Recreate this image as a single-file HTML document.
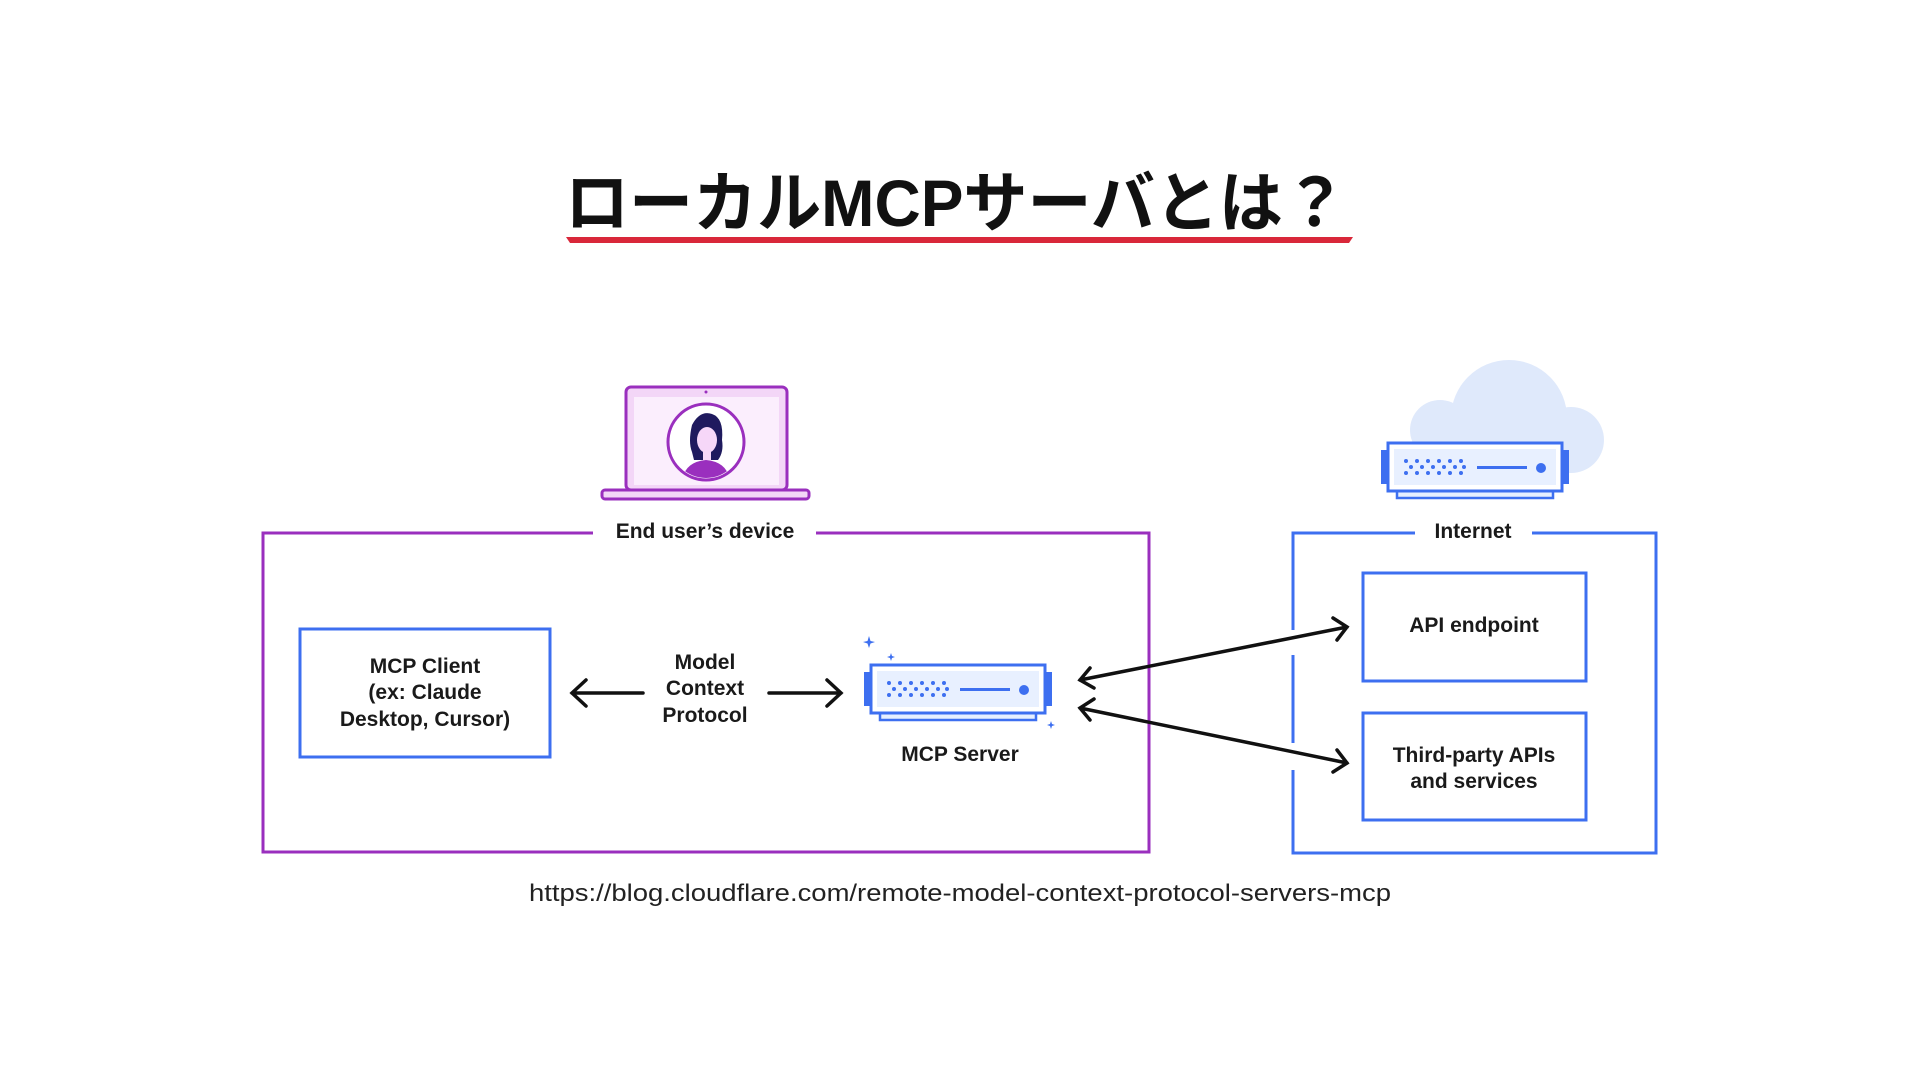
<!DOCTYPE html>
<html><head><meta charset="utf-8"><style>
html,body{margin:0;padding:0;background:#fff;}
svg{display:block}
text{font-family:"Liberation Sans","Noto Sans CJK JP",sans-serif;}
</style></head><body>
<svg width="1920" height="1080" viewBox="0 0 1920 1080" xmlns="http://www.w3.org/2000/svg">
<defs>
<g id="srv">
  <rect x="864" y="672" width="8" height="34" fill="#3d6ff0"/>
  <rect x="1044" y="672" width="8" height="34" fill="#3d6ff0"/>
  <rect x="880" y="712" width="156" height="8" fill="#e6efff" stroke="#3d6ff0" stroke-width="2.5"/>
  <rect x="871" y="665" width="174" height="48" fill="#fff" stroke="#3d6ff0" stroke-width="3"/>
  <rect x="877" y="671" width="162" height="36" fill="#e8f0ff"/>
  <g fill="#3d6ff0">
    <circle cx="889" cy="683" r="2"/><circle cx="900" cy="683" r="2"/><circle cx="911" cy="683" r="2"/><circle cx="922" cy="683" r="2"/><circle cx="933" cy="683" r="2"/><circle cx="944" cy="683" r="2"/>
    <circle cx="894" cy="689" r="2"/><circle cx="905" cy="689" r="2"/><circle cx="916" cy="689" r="2"/><circle cx="927" cy="689" r="2"/><circle cx="938" cy="689" r="2"/><circle cx="947" cy="689" r="2"/>
    <circle cx="889" cy="695" r="2"/><circle cx="900" cy="695" r="2"/><circle cx="911" cy="695" r="2"/><circle cx="922" cy="695" r="2"/><circle cx="933" cy="695" r="2"/><circle cx="944" cy="695" r="2"/>
    <rect x="960" y="688" width="50" height="3"/>
    <circle cx="1024" cy="690" r="5"/>
  </g>
</g>
</defs>

<!-- Title -->
<text x="565" y="226" font-size="66" font-weight="bold" fill="#111" textLength="782" lengthAdjust="spacingAndGlyphs">ローカルMCPサーバとは？</text>
<path d="M566 237 L1353 237 L1349 243 L570 243 Z" fill="#d9283a"/>

<!-- Laptop -->
<rect x="626" y="387" width="161" height="103" rx="5" fill="#f3d6f7" stroke="#9a2fbe" stroke-width="3"/>
<rect x="634" y="397" width="145" height="88" fill="#fbeefd"/>
<circle cx="706" cy="392" r="1.5" fill="#9a2fbe"/>
<rect x="602" y="490" width="207" height="9" rx="3" fill="#f3d6f7" stroke="#9a2fbe" stroke-width="3"/>
<circle cx="706" cy="442" r="38" fill="#fff" stroke="#9a2fbe" stroke-width="3"/>
<clipPath id="cc"><circle cx="706" cy="442" r="36"/></clipPath>
<g clip-path="url(#cc)">
  <path d="M682 482 Q684 462 706 460 Q728 462 730 482 Z" fill="#9a2fbe"/>
  <path d="M692 452 Q688 442 692 425 Q700 410 712 414 Q724 418 722 440 Q724 452 718 460 L694 460 Z" fill="#1f1a5e"/>
  <ellipse cx="707" cy="440" rx="10" ry="13" fill="#f6d7f8"/>
  <rect x="703" y="450" width="8" height="10" fill="#f6d7f8"/>
</g>

<!-- Purple box -->
<rect x="263" y="533" width="886" height="319" fill="none" stroke="#9a2fbe" stroke-width="3"/>
<rect x="593" y="520" width="223" height="25" fill="#fff"/>
<text x="705" y="538" text-anchor="middle" font-size="21" font-weight="bold" fill="#1a1a1a">End user’s device</text>

<!-- MCP client -->
<rect x="300" y="629" width="250" height="128" fill="#fff" stroke="#3d6ff0" stroke-width="3"/>
<g font-size="21" font-weight="bold" fill="#1a1a1a" text-anchor="middle">
<text x="425" y="673">MCP Client</text>
<text x="425" y="699">(ex: Claude</text>
<text x="425" y="726">Desktop, Cursor)</text>
<text x="705" y="669">Model</text>
<text x="705" y="695">Context</text>
<text x="705" y="722">Protocol</text>
<text x="960" y="761">MCP Server</text>
</g>

<!-- arrows -->
<g stroke="#111" stroke-width="3.5" fill="none" stroke-linecap="round">
<path d="M643 693 L572 693 M586 680 L572 693 L586 706"/>
<path d="M769 693 L841 693 M827 680 L841 693 L827 706"/>
<path d="M1080 680 L1347 627 M1090 668 L1080 680 L1094 688 M1333 618 L1347 627 L1337 640"/>
<path d="M1080 708 L1347 763 M1094 699 L1080 708 L1090 720 M1337 750 L1347 763 L1333 772"/>
</g>

<!-- server icon -->
<use href="#srv"/>
<g fill="#3d6ff0">
<path d="M869 636 L870.5 641 L875 642 L870.5 643.5 L869 648 L867.5 643.5 L863 642 L867.5 641 Z"/>
<path d="M891 653 L892 656 L895 657 L892 658 L891 661 L890 658 L887 657 L890 656 Z"/>
<path d="M1051 721 L1052 724 L1055 725 L1052 726 L1051 729 L1050 726 L1047 725 L1050 724 Z"/>
</g>

<!-- Cloud -->
<g fill="#dfe9fb">
<circle cx="1509" cy="418" r="58"/>
<circle cx="1571" cy="440" r="33"/>
<circle cx="1440" cy="430" r="30"/>
<rect x="1440" y="430" width="131" height="43"/>
</g>
<use href="#srv" transform="translate(517,-222)"/>

<!-- Internet box -->
<path d="M1293 630 L1293 533 L1656 533 L1656 853 L1293 853 L1293 770 M1293 743 L1293 655" fill="none" stroke="#3d6ff0" stroke-width="3"/>
<rect x="1415" y="520" width="117" height="25" fill="#fff"/>
<text x="1473" y="538" text-anchor="middle" font-size="21" font-weight="bold" fill="#1a1a1a">Internet</text>
<rect x="1363" y="573" width="223" height="108" fill="#fff" stroke="#3d6ff0" stroke-width="3"/>
<rect x="1363" y="713" width="223" height="107" fill="#fff" stroke="#3d6ff0" stroke-width="3"/>
<g font-size="21" font-weight="bold" fill="#1a1a1a" text-anchor="middle">
<text x="1474" y="632">API endpoint</text>
<text x="1474" y="762">Third-party APIs</text>
<text x="1474" y="788">and services</text>
</g>

<text x="529" y="901" font-size="24" fill="#222" textLength="862" lengthAdjust="spacingAndGlyphs">https://blog.cloudflare.com/remote-model-context-protocol-servers-mcp</text>
</svg>
</body></html>
